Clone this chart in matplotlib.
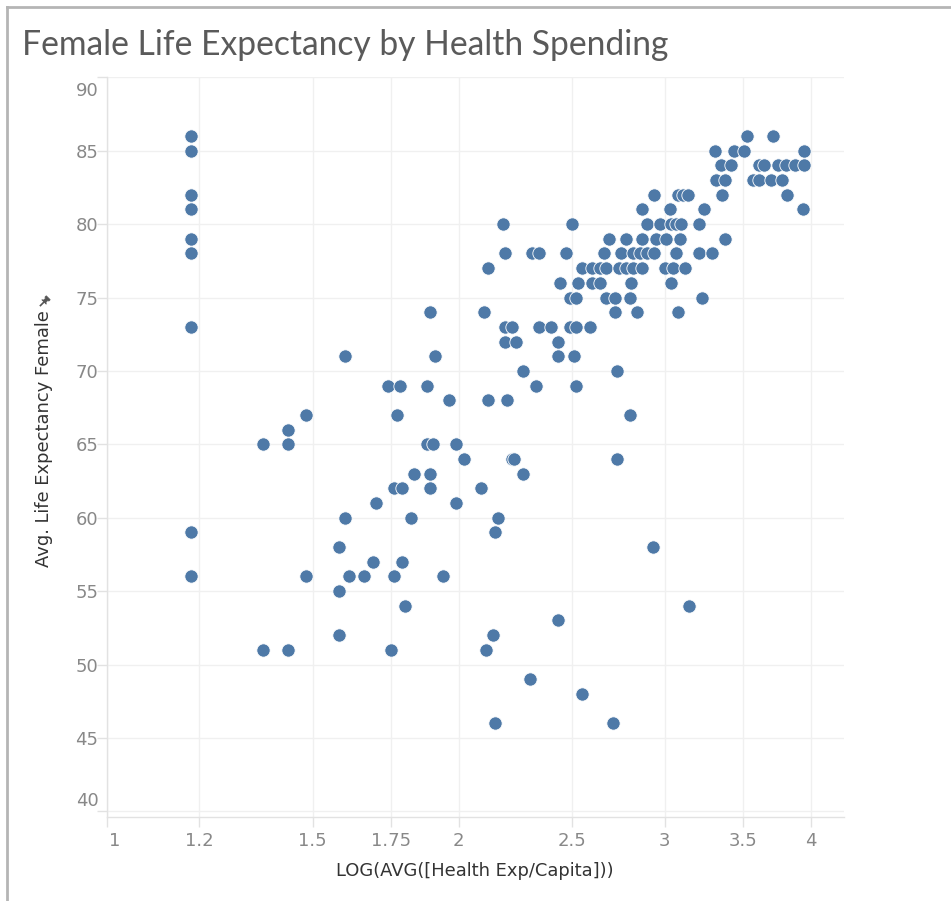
import matplotlib
matplotlib.use("Agg")
import matplotlib.pyplot as plt
from matplotlib.lines import Line2D
from matplotlib.patches import Polygon
from matplotlib.transforms import ScaledTranslation
import numpy as np

# Average female life expectancy (years) per country
female_life_exp = [
    86, 86, 86,
    85, 85, 85, 85, 85,
    84, 84, 84, 84, 84, 84, 84, 84,
    83, 83, 83, 83, 83, 83,
    82, 82, 82, 82, 82, 82, 82,
    81, 81, 81, 81, 81,
    80, 80, 80, 80, 80, 80, 80, 80,
    79, 79, 79, 79, 79, 79, 79, 79,
    78, 78, 78, 78, 78, 78, 78, 78, 78, 78, 78, 78, 78, 78,
    77, 77, 77, 77, 77, 77, 77, 77, 77, 77, 77, 77,
    76, 76, 76, 76, 76, 76,
    75, 75, 75, 75, 75, 75,
    74, 74, 74, 74, 74,
    73, 73, 73, 73, 73, 73, 73, 73,
    72, 72, 72,
    71, 71, 71, 71,
    70, 70,
    69, 69, 69, 69, 69,
    68, 68, 68,
    67, 67, 67,
    66,
    65, 65, 65, 65, 65,
    64, 64, 64, 64,
    63, 63, 63,
    62, 62, 62, 62,
    61, 61,
    60, 60, 60,
    59, 59,
    58, 58,
    57, 57,
    56, 56, 56, 56, 56, 56,
    55,
    54, 54,
    53,
    52, 52,
    51, 51, 51, 51,
    49,
    48,
    46, 46,
]

# LOG(AVG(health expenditure per capita)) for the same countries
log_health_exp = [
    1.18, 3.53, 3.71,
    1.18, 3.31, 3.44, 3.51, 3.95,
    3.35, 3.42, 3.61, 3.65, 3.75, 3.81, 3.88, 3.95,
    3.32, 3.38, 3.57, 3.61, 3.70, 3.78,
    1.18, 2.94, 3.08, 3.11, 3.14, 3.36, 3.82,
    1.18, 2.87, 3.03, 3.24, 3.94,
    2.18, 2.50, 2.90, 2.97, 3.04, 3.07, 3.10, 3.21,
    1.18, 2.69, 2.78, 2.87, 2.95, 3.01, 3.09, 3.38,
    1.18, 2.19, 2.31, 2.34, 2.47, 2.66, 2.75, 2.82, 2.86, 2.90, 2.94, 3.07, 3.21, 3.29,
    2.12, 2.55, 2.60, 2.64, 2.67, 2.74, 2.78, 2.82, 2.87, 3.00, 3.05, 3.12,
    2.44, 2.53, 2.60, 2.64, 2.81, 3.04,
    2.49, 2.52, 2.67, 2.72, 2.80, 3.23,
    1.89, 2.10, 2.72, 2.84, 3.08,
    1.18, 2.19, 2.22, 2.34, 2.40, 2.49, 2.52, 2.59,
    2.19, 2.24, 2.43,
    1.60, 1.91, 2.43, 2.51,
    2.27, 2.73,
    1.74, 1.78, 1.88, 2.33, 2.52,
    1.96, 2.12, 2.20,
    1.48, 1.77, 2.80,
    1.43,
    1.36, 1.43, 1.88, 1.90, 1.99,
    2.02, 2.22, 2.23, 2.73,
    1.83, 1.89, 2.27,
    1.76, 1.79, 1.89, 2.09,
    1.70, 1.99,
    1.60, 1.82, 2.16,
    1.18, 2.15,
    1.58, 2.93,
    1.69, 1.79,
    1.18, 1.48, 1.61, 1.66, 1.76, 1.94,
    1.58,
    1.80, 3.15,
    2.43,
    1.58, 2.14,
    1.36, 1.43, 1.75, 2.11,
    2.30,
    2.55,
    2.15, 2.71,
]

x_ticks = [1, 1.2, 1.5, 1.75, 2, 2.5, 3, 3.5, 4]
x_tick_labels = ["1", "1.2", "1.5", "1.75", "2", "2.5", "3", "3.5", "4"]
y_ticks = [40, 45, 50, 55, 60, 65, 70, 75, 80, 85, 90]
y_tick_labels = [str(v) for v in y_ticks]

title = "Female Life Expectancy by Health Spending"
x_title = "LOG(AVG([Health Exp/Capita]))"
y_title = "Avg. Life Expectancy Female"

W, H = 951, 901
fig = plt.figure(figsize=(W / 100, H / 100), dpi=100)
fig.patch.set_facecolor("white")

left_px, right_px, top_px, bottom_px = 106.7, 844.0, 77.3, 817.2
ax = fig.add_axes([left_px / W, 1 - bottom_px / H,
                   (right_px - left_px) / W, (bottom_px - top_px) / H])

ax.set_xscale("log")
ax.minorticks_off()
ax.set_xlim(1.0, 4.27)
ax.set_ylim(39.6, 90)
ax.set_xticks(x_ticks)
ax.set_xticklabels(x_tick_labels)
ax.set_yticks(y_ticks)
ax.set_yticklabels(y_tick_labels)
ax.minorticks_off()

grid_col = "#f0f0f0"
ax.grid(True, color=grid_col, linewidth=1.0, zorder=0)
ax.set_axisbelow(True)
for side in ("top", "right"):
    ax.spines[side].set_visible(False)
for side in ("left", "bottom"):
    ax.spines[side].set_color("#e2e2e2")
    ax.spines[side].set_linewidth(1.0)

ax.tick_params(axis="both", which="major", direction="out", length=7,
               width=1.0, color="#e2e2e2", labelcolor="#888888",
               labelsize=13)
ax.tick_params(axis="x", pad=4)
ax.tick_params(axis="y", pad=-1)

# keep the end labels inside the pane
yt = ax.yaxis.get_major_ticks()
yt[0].label1.set_transform(yt[0].label1.get_transform()
                           + ScaledTranslation(0, 12 / 100, fig.dpi_scale_trans))
yt[-1].label1.set_transform(yt[-1].label1.get_transform()
                            + ScaledTranslation(0, -12 / 100, fig.dpi_scale_trans))
xt = ax.xaxis.get_major_ticks()
xt[0].label1.set_transform(xt[0].label1.get_transform()
                           + ScaledTranslation(8 / 100, 0, fig.dpi_scale_trans))

ax.scatter(log_health_exp, female_life_exp, s=92, c="#4e79a7",
           edgecolors="white", linewidths=0.6, zorder=3, clip_on=False)

fig.text(22 / W, 1 - 45 / H, title, ha="left", va="center",
         fontsize=24.2, color="#5a5a5a", family=["Lato", "DejaVu Sans"],
         fontweight="normal")
fig.text(475 / W, 1 - 871 / H, x_title, ha="center", va="center",
         fontsize=12.9, color="#333333")
fig.text(44 / W, 1 - 439 / H, y_title, ha="center", va="center",
         rotation=90, fontsize=12.9, color="#333333")


# pushpin icon above the vertical axis title
def px(x, y):
    return (x / W, 1 - y / H)


c = np.array([44.0, 302.0])
d = np.array([1.0, -1.0]) / np.sqrt(2)
p = np.array([1.0, 1.0]) / np.sqrt(2)
pin_body = [c + 3.2 * p, c - 3.2 * p, c + 1.2 * d - 1.6 * p, c + 4.0 * d - 1.6 * p,
            c + 4.0 * d - 2.8 * p, c + 6.0 * d - 2.8 * p, c + 6.0 * d + 2.8 * p,
            c + 4.0 * d + 2.8 * p, c + 4.0 * d + 1.6 * p, c + 1.2 * d + 1.6 * p]
fig.add_artist(Polygon([px(*v) for v in pin_body], closed=True,
                       transform=fig.transFigure, facecolor="#555555",
                       edgecolor="#555555", linewidth=0.5))
tip = c - 5.0 * d
fig.add_artist(Line2D([px(*c)[0], px(*tip)[0]], [px(*c)[1], px(*tip)[1]],
                      transform=fig.transFigure, color="#555555", linewidth=1.2))

# dashboard frame
fig.add_artist(Line2D([7 / W, 7 / W], [0, 1 - 7 / H], transform=fig.transFigure,
                      color="#b5b5b5", linewidth=2))
fig.add_artist(Line2D([7 / W, 1], [1 - 7 / H, 1 - 7 / H], transform=fig.transFigure,
                      color="#b5b5b5", linewidth=2))

fig.savefig("out.png", dpi=100, facecolor="white")
